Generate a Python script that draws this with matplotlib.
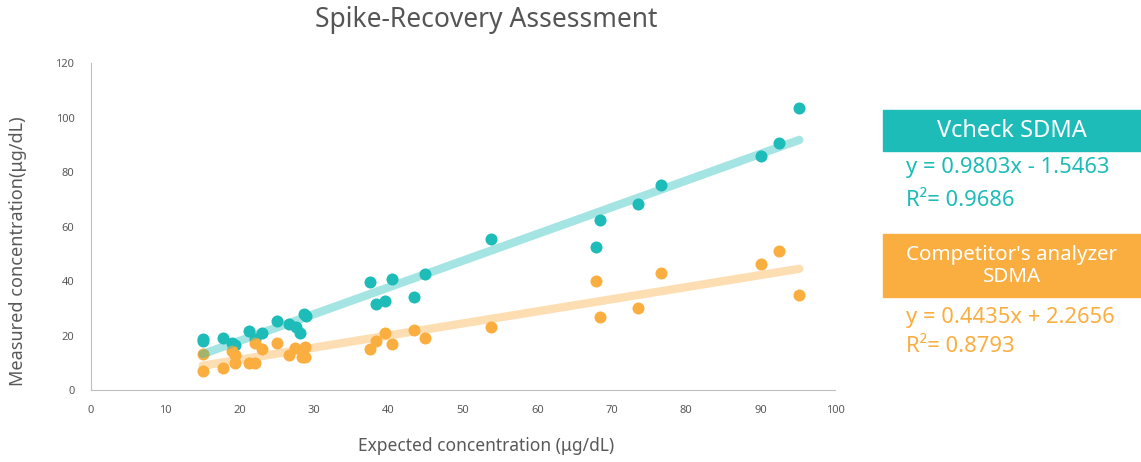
import matplotlib.pyplot as plt
import numpy as np
from matplotlib.patches import Rectangle

plt.rcParams['font.family'] = ['Noto Sans', 'DejaVu Sans']

TEAL = '#1dbcb8'
ORANGE = '#fbae40'
GREY = '#595959'

# expected vs measured
vcheck_x = [15.0, 15.0, 17.8, 19.0, 19.4, 21.3, 22.0, 23.0, 25.0, 26.6,
            27.5, 28.1, 28.6, 28.9, 37.5, 38.3, 39.5, 40.5, 43.4, 44.9,
            53.7, 67.9, 68.4, 73.5, 76.6, 90.0, 92.5, 95.2]
vcheck_y = [18.6, 17.8, 19.2, 17.2, 16.5, 21.8, 18.6, 21.0, 25.3, 24.1,
            23.2, 20.8, 27.8, 27.2, 39.7, 31.4, 32.7, 40.7, 34.2, 42.4,
            55.3, 52.6, 62.4, 68.3, 75.1, 86.0, 90.6, 103.4]
comp_x = [15.0, 15.0, 17.8, 18.9, 19.3, 19.4, 21.2, 22.0, 22.1, 23.0,
          25.0, 26.6, 27.4, 28.3, 28.8, 28.8, 37.5, 38.3, 39.5, 40.5,
          43.4, 44.9, 53.7, 67.9, 68.4, 73.5, 76.6, 90.0, 92.5, 95.2]
comp_y = [13.1, 7.0, 8.0, 14.2, 12.8, 10.0, 10.0, 17.1, 10.0, 14.9,
          17.1, 12.8, 15.3, 12.2, 12.0, 15.9, 15.0, 18.1, 21.0, 16.9,
          22.0, 19.0, 23.0, 40.0, 26.9, 30.0, 43.1, 46.1, 51.0, 35.0]

# trendline coefficients as printed on the chart
vcheck_fit = (0.9803, -1.5463)
comp_fit = (0.4435, 2.2656)

fig = plt.figure(figsize=(11.41, 4.62), dpi=100)
ax = fig.add_axes([91 / 1141, 72 / 462, 744 / 1141, 327 / 462])

ax.scatter(vcheck_x, vcheck_y, s=75, color=TEAL, linewidths=0, zorder=2)
ax.scatter(comp_x, comp_y, s=75, color=ORANGE, linewidths=0, zorder=2)

for xs, (m, b), col in [(vcheck_x, vcheck_fit, TEAL), (comp_x, comp_fit, ORANGE)]:
    xx = np.array([min(xs), max(xs)])
    ax.plot(xx, m * xx + b, color=col, alpha=0.4, lw=6,
            solid_capstyle='round', zorder=3)

ax.set_xlim(0, 100)
ax.set_ylim(0, 120)
ax.set_xticks(np.arange(0, 101, 10))
ax.set_yticks(np.arange(0, 121, 20))
ax.tick_params(length=0, labelsize=8, labelcolor=GREY)
ax.tick_params(axis='x', pad=11)
ax.tick_params(axis='y', pad=12)
for s in ['top', 'right']:
    ax.spines[s].set_visible(False)
for s in ['left', 'bottom']:
    ax.spines[s].set_color('#bfbfbf')

fig.text(18 / 1141, 1 - 251 / 462, 'Measured concentration(μg/dL)', rotation=90,
         ha='center', va='center', fontsize=13, color=GREY)
fig.text(486 / 1141, 1 - 446 / 462, 'Expected concentration (μg/dL)',
         ha='center', va='center', fontsize=12.5, color=GREY)
fig.text(486 / 1141, 1 - 20 / 462, 'Spike-Recovery Assessment',
         ha='center', va='center', fontsize=19, color='#555555')

# legend panel on the right
def px(x, y):
    return x / 1141, 1 - y / 462

fig.patches.append(Rectangle(px(883, 151), 258 / 1141, 41 / 462,
                             transform=fig.transFigure, color=TEAL))
fig.patches.append(Rectangle(px(883, 297), 258 / 1141, 63 / 462,
                             transform=fig.transFigure, color=ORANGE))
fig.text(*px(1012, 131), 'Vcheck SDMA', ha='center', va='center',
         fontsize=17, color='white')
fig.text(*px(1012, 266), "Competitor's analyzer\nSDMA", ha='center',
         va='center', fontsize=14.8, color='white', linespacing=1.1)
fig.text(*px(906, 168), 'y = 0.9803x - 1.5463', ha='left', va='center',
         fontsize=15.8, color=TEAL)
fig.text(*px(906, 200), 'R²= 0.9686', ha='left', va='center',
         fontsize=15.8, color=TEAL)
fig.text(*px(906, 317), 'y = 0.4435x + 2.2656', ha='left', va='center',
         fontsize=15.8, color=ORANGE)
fig.text(*px(906, 347), 'R²= 0.8793', ha='left', va='center',
         fontsize=15.8, color=ORANGE)

fig.savefig('out.png', dpi=100)
